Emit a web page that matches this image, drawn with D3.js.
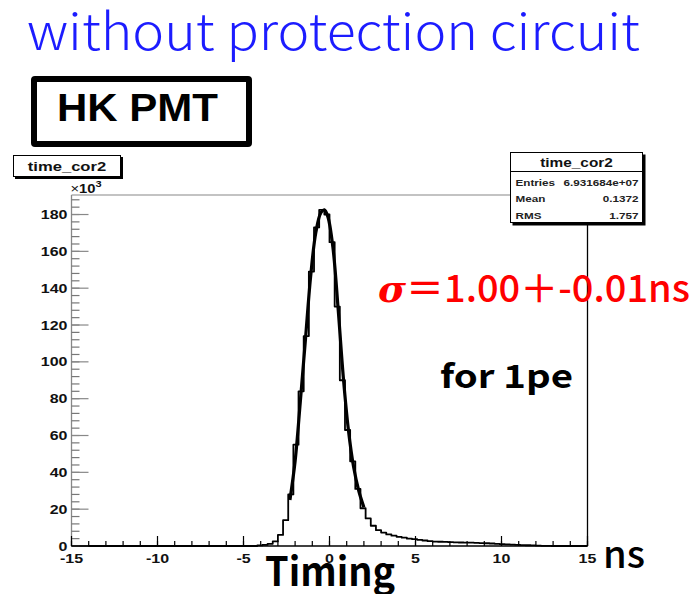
<!DOCTYPE html>
<html><head><meta charset="utf-8">
<script src="https://cdn.jsdelivr.net/npm/d3@7"></script>
<style>body{margin:0;background:#fff}</style>
</head><body>
<svg id="c" width="697" height="594"></svg>
<script>
// ---- data ----
const xLow = -15, xHigh = 15, binWidth = 0.3;
// bin contents in units of 10^3
const counts = [
 0,0,0,0,0,0,0,0,0,0, 0,0,0,0,0,0,0,0,0,0, 0,0,0,0,0,0,0,0,0,0, 0,0,0,0,0,
 0,0.3,0.6,1.2,2.5,6,14,28,55,84,114,149,173,182.5,180,165,130,90,63,46,31,20.5,15,11,8.6,
 7.3,6.3,5.6,5.0,4.5,4.0,3.7,3.3,3.0,2.6,2.4,2.3,2.2,2.1,2.0,1.9,1.85,1.8,1.7,1.6,
 1.5,1.35,1.2,1.0,0.9,0.8,0.6,0.5,0.4,0.3,0.2,0.1,0.05,
 0,0,0,0,0,0,0
];
// fitted curve (time in ns, value in 10^3)
const fitT = [-2.3,-2.0,-1.7,-1.4,-1.1,-0.8,-0.5,-0.3,-0.1,0.2,0.5,0.8,1.1,1.4,1.7,2.0];
const fitV = [25,46,78,112,146,170,181,182.5,179,162,129,92,63,43,30,21];
const xTicks = [-15,-10,-5,0,5,10,15];
const yTicks = [0,20,40,60,80,100,120,140,160,180];
const yMax = 190.6;
const histName = "time_cor2";
const statsLabels = ["Entries","Mean","RMS"];
const statsValues = ["6.931684e+07","0.1372","1.757"];

// ---- drawing ----
const svg = d3.select("#c");
const L = 71.5, R = 587.5, T = 195, B = 546;
const x = d3.scaleLinear().domain([xLow, xHigh]).range([L, R]);
const y = d3.scaleLinear().domain([0, yMax]).range([B, T]);
const ROOTF = "'Liberation Sans',Arial,sans-serif";
const JPF = "'Noto Sans CJK JP','Noto Sans',sans-serif";
const SX = 1.23; // horizontal stretch of the ROOT texts

function rtext(parent, px, py, str, size, anchor, color) {
  return parent.append("text")
    .attr("transform", `translate(${px},${py}) scale(${SX},1)`)
    .attr("text-anchor", anchor || "start")
    .attr("font-family", ROOTF).attr("font-weight", "bold")
    .attr("font-size", size).attr("fill", color || "#111").text(str);
}

// headline texts
svg.append("text").attr("x",27).attr("y",50)
  .attr("font-family",JPF).attr("font-weight",300)
  .attr("font-size",50).attr("fill","#1c1cff")
  .attr("textLength",613).attr("lengthAdjust","spacingAndGlyphs")
  .text("without protection circuit");

svg.append("rect").attr("x",34).attr("y",79).attr("width",215).attr("height",65)
  .attr("fill","#fff").attr("stroke","#000").attr("stroke-width",6).attr("rx",1);
svg.append("text").attr("x",57).attr("y",121)
  .attr("font-family",ROOTF).attr("font-weight","bold")
  .attr("font-size",39).attr("fill","#000")
  .attr("textLength",161).attr("lengthAdjust","spacingAndGlyphs")
  .text("HK PMT");

// frame
const g = svg.append("g");
g.append("line").attr("x1",L).attr("x2",R).attr("y1",T).attr("y2",T).attr("stroke","#888").attr("stroke-width",1.2);
g.append("line").attr("x1",R).attr("x2",R).attr("y1",T).attr("y2",B).attr("stroke","#000").attr("stroke-width",1.3);

// histogram step line
const pts = counts.map((v,i)=>({e: xLow + i*binWidth, v}));
pts.push({e: xHigh, v: counts[counts.length-1]});
const line = d3.line().x(d=>x(d.e)).y(d=>y(d.v)).curve(d3.curveStepAfter);
g.append("path").datum(pts).attr("d",line).attr("fill","none")
  .attr("stroke","#000").attr("stroke-width",1.8).attr("stroke-linejoin","round");

// fit curve
const fitPts = fitT.map((t,i)=>({t, v: fitV[i]}));
g.append("path").datum(fitPts)
  .attr("d", d3.line().x(d=>x(d.t)).y(d=>y(d.v)).curve(d3.curveCatmullRom))
  .attr("fill","none").attr("stroke","#000").attr("stroke-width",3.2);

// y axis
g.append("line").attr("x1",L).attr("x2",L).attr("y1",T).attr("y2",B).attr("stroke","#888").attr("stroke-width",1.3);
const yMinor = d3.range(0, yMax, 4);
g.selectAll(".ymin").data(yMinor).enter().append("line")
  .attr("x1",L).attr("x2",L+8).attr("y1",d=>y(d)).attr("y2",d=>y(d))
  .attr("stroke","#777").attr("stroke-width",1.2);
g.selectAll(".ymaj").data(yTicks).enter().append("line")
  .attr("x1",L).attr("x2",L+17).attr("y1",d=>y(d)).attr("y2",d=>y(d))
  .attr("stroke","#888").attr("stroke-width",1.2);
yTicks.forEach(d => rtext(g, L-4, y(d)+4.5, d, 13, "end"));
const mult = g.append("text").attr("transform",`translate(${L-1},${T-2}) scale(${SX},1)`)
  .attr("font-family",ROOTF).attr("font-weight","bold")
  .attr("font-size",12).attr("fill","#111");
mult.append("tspan").attr("font-weight","normal").text("\u00d7");
mult.append("tspan").text("10");
mult.append("tspan").attr("dy",-6).attr("font-size",9).text("3");

// x axis
g.append("line").attr("x1",L).attr("x2",R).attr("y1",B).attr("y2",B).attr("stroke","#000").attr("stroke-width",1.6);
const xMinor = d3.range(xLow, xHigh+0.001, 1);
g.selectAll(".xmin").data(xMinor).enter().append("line")
  .attr("x1",d=>x(d)).attr("x2",d=>x(d)).attr("y1",B).attr("y2",B-5)
  .attr("stroke","#000").attr("stroke-width",1.2);
g.selectAll(".xmaj").data(xTicks).enter().append("line")
  .attr("x1",d=>x(d)).attr("x2",d=>x(d)).attr("y1",B).attr("y2",B-10)
  .attr("stroke","#000").attr("stroke-width",1.2);
xTicks.forEach(d => rtext(g, x(d), B+17, d, 13, "middle"));

// title box
svg.append("rect").attr("x",15).attr("y",157).attr("width",108).attr("height",22).attr("fill","#000");
svg.append("rect").attr("x",13.5).attr("y",155.5).attr("width",107).attr("height",21)
  .attr("fill","#fff").attr("stroke","#000").attr("stroke-width",1);
rtext(svg, 67, 171, histName, 13.5, "middle");

// stats box
const sx = 510.5, sy = 152.5, sw = 132, sh = 70;
svg.append("rect").attr("x",sx+2).attr("y",sy+2).attr("width",sw+1).attr("height",sh+1).attr("fill","#000");
svg.append("rect").attr("x",sx).attr("y",sy).attr("width",sw).attr("height",sh)
  .attr("fill","#fff").attr("stroke","#000").attr("stroke-width",1);
svg.append("line").attr("x1",sx).attr("x2",sx+sw).attr("y1",171.5).attr("y2",171.5).attr("stroke","#000");
rtext(svg, sx+sw/2, 167, histName, 12.5, "middle");
const rowY = [186, 202, 219];
statsLabels.forEach((s,i)=>{
  rtext(svg, sx+5, rowY[i], s, 9.5, "start", "#222");
  rtext(svg, sx+sw-4, rowY[i], statsValues[i], 9.5, "end", "#222");
});

// annotations
const sig = svg.append("text").attr("x",378).attr("y",302)
  .attr("font-family",JPF).attr("font-weight",500)
  .attr("font-size",38).attr("fill","#ff0000")
  .attr("textLength",312).attr("lengthAdjust","spacingAndGlyphs");
sig.append("tspan").attr("font-family","'DejaVu Serif',serif").attr("font-style","italic")
  .attr("font-weight","bold").text("\u03c3");
sig.append("tspan").text("\uff1d1.00\uff0b-0.01ns");
svg.append("text").attr("x",440).attr("y",388)
  .attr("font-family",JPF).attr("font-weight",700)
  .attr("font-size",32).attr("fill","#000")
  .attr("textLength",133).attr("lengthAdjust","spacingAndGlyphs")
  .text("for 1pe");
svg.append("text").attr("x",265).attr("y",586)
  .attr("font-family",JPF).attr("font-weight",700)
  .attr("font-size",40).attr("fill","#000")
  .attr("textLength",130).attr("lengthAdjust","spacingAndGlyphs")
  .text("Timing");
svg.append("text").attr("x",603).attr("y",568)
  .attr("font-family",JPF).attr("font-weight",500)
  .attr("font-size",38).attr("fill","#000")
  .attr("textLength",42).attr("lengthAdjust","spacingAndGlyphs")
  .text("ns");
</script>
</body></html>
